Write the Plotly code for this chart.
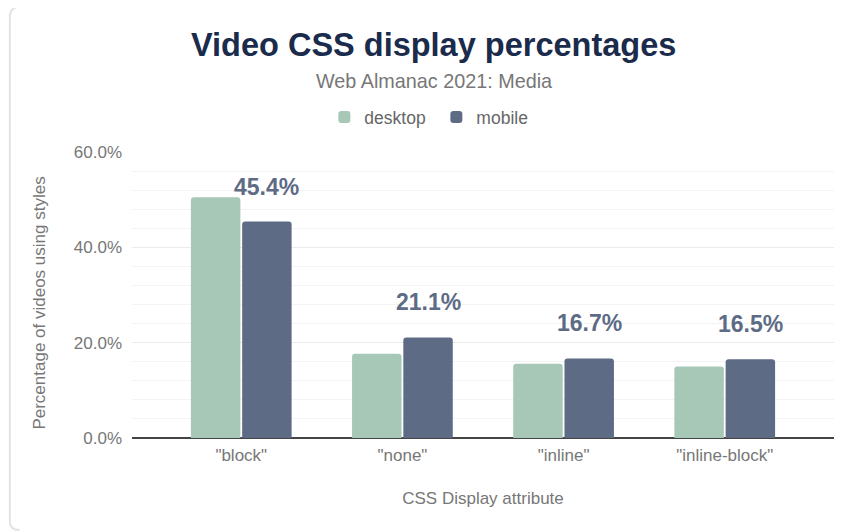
import plotly.graph_objects as go

categories = ['"block"', '"none"', '"inline"', '"inline-block"']
desktop = [50.5, 17.7, 15.6, 15.0]
mobile = [45.4, 21.1, 16.7, 16.5]
mobile_labels = ["45.4%", "21.1%", "16.7%", "16.5%"]
y_ticks = [0, 20, 40, 60]
y_tick_labels = ["0.0%", "20.0%", "40.0%", "60.0%"]

DESKTOP_COLOR = "#a7c7b7"
MOBILE_COLOR = "#5d6b85"
FONT = "Liberation Sans, Arial, sans-serif"

fig = go.Figure()
fig.add_trace(go.Bar(name="desktop", x=categories, y=desktop,
                     marker=dict(color=DESKTOP_COLOR, line=dict(width=0)),
                     hoverinfo="skip"))
fig.add_trace(go.Bar(name="mobile", x=categories, y=mobile,
                     marker=dict(color=MOBILE_COLOR, line=dict(width=0)),
                     hoverinfo="skip"))

annotations = []
for c, v, t in zip(categories, mobile, mobile_labels):
    annotations.append(dict(x=c, y=v, text=t, showarrow=False, xref="x", yref="y",
                            xanchor="center", yanchor="middle", xshift=25.6, yshift=35,
                            font=dict(family=FONT, size=23, color=MOBILE_COLOR, weight="bold")))

annotations.append(dict(x=0.43, y=1.374, xref="paper", yref="paper", showarrow=False,
                        text="Video CSS display percentages", xanchor="center", yanchor="middle",
                        font=dict(family=FONT, size=32.5, color="#1a2b4b", weight=900)))
annotations.append(dict(x=0.43, y=1.248, xref="paper", yref="paper", showarrow=False,
                        text="Web Almanac 2021: Media", xanchor="center", yanchor="middle",
                        font=dict(family=FONT, size=19.8, color="#777777")))
# y-axis title
annotations.append(dict(x=-0.131, y=0.47, xref="paper", yref="paper", showarrow=False,
                        text="Percentage of videos using styles", textangle=-90,
                        xanchor="center", yanchor="middle",
                        font=dict(family=FONT, size=17, color="#777777")))

fig.update_layout(
    width=855, height=532,
    margin=dict(l=124, r=29, t=144, b=102, autoexpand=False),
    paper_bgcolor="white", plot_bgcolor="white",
    barmode="group", bargap=0.364, bargroupgap=0.035, barcornerradius=3,
    font=dict(family=FONT, color="#777777"),
    showlegend=True,
    legend=dict(orientation="h", xref="container", x=0.501, xanchor="center",
                yref="paper", y=1.122, yanchor="middle",
                entrywidth=67, entrywidthmode="pixels",
                font=dict(family=FONT, size=17.5, color="#666666"),
                itemclick=False, itemdoubleclick=False, traceorder="normal"),
    annotations=annotations,
    xaxis=dict(range=[-0.678, 3.678], showgrid=False, zeroline=False,
               showline=False, ticks="", ticklabelstandoff=5,
               tickfont=dict(family=FONT, size=17, color="#777777"),
               title=dict(text="CSS Display attribute", standoff=28,
                          font=dict(family=FONT, size=17, color="#777777"))),
    yaxis=dict(range=[0, 60], tickvals=y_ticks, ticktext=y_tick_labels,
               showgrid=True, gridcolor="#ebebeb", gridwidth=1,
               minor=dict(dtick=4, showgrid=True, gridcolor="#f3f3f3", gridwidth=1, ticks=""),
               zeroline=True, zerolinecolor="#444444", zerolinewidth=2,
               showline=False, ticks="", ticklabelstandoff=9,
               tickfont=dict(family=FONT, size=17, color="#777777")),
    shapes=[dict(type="path", xref="paper", yref="paper", layer="below",
                 path="M 1.2,1.5084 L -0.157,1.5084 Q -0.174,1.5084 -0.174,1.4734 L -0.174,-0.2937 Q -0.174,-0.3217 -0.160,-0.3217",
                 line=dict(color="#e3e3e3", width=2))],
)

fig.write_html("out.html")
